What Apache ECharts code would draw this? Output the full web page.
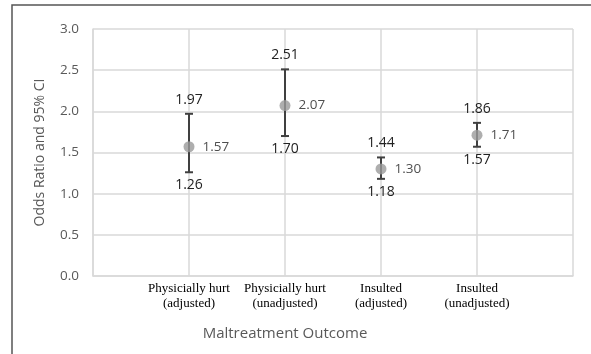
<!DOCTYPE html>
<html><head><meta charset="utf-8">
<script src="https://cdn.jsdelivr.net/npm/echarts@6/dist/echarts.min.js"></script>
<style>html,body{margin:0;padding:0;background:#fff}#c{width:591px;height:354px}</style>
</head><body><div id="c"></div>
<script>
const categories = ['Physicially hurt\n(adjusted)', 'Physicially hurt\n(unadjusted)', 'Insulted\n(adjusted)', 'Insulted\n(unadjusted)'];
const oddsRatio = [1.57, 2.07, 1.30, 1.71];
const lowerCI = [1.26, 1.70, 1.18, 1.57];
const upperCI = [1.97, 2.51, 1.44, 1.86];
const yTicks = [0, 0.5, 1.0, 1.5, 2.0, 2.5, 3.0];

const chart = echarts.init(document.getElementById('c'));
const gridColor = '#d9d9d9';
const errData = categories.map((c, i) => [i + 1, lowerCI[i], upperCI[i]]);
const ptData = categories.map((c, i) => [i + 1, oddsRatio[i]]);

chart.setOption({
  animation: false,
  grid: { left: 93, right: 18, top: 29, bottom: 78 },
  graphic: [
    { type: 'rect', shape: { x: 12, y: 5, width: 600, height: 360 }, style: { fill: 'none', stroke: '#555', lineWidth: 1.5 }, z: -10 },
    { type: 'text', x: 285, y: 334, style: { text: 'Maltreatment Outcome', font: '15px "Open Sans"', fill: '#595959', textAlign: 'center', textVerticalAlign: 'middle' } }
  ],
  xAxis: {
    type: 'value', min: 0, max: 5, interval: 1,
    axisLine: { show: true, lineStyle: { color: gridColor, width: 1.5 } },
    axisTick: { show: false },
    splitLine: { show: true, lineStyle: { color: gridColor, width: 1.5 } },
    axisLabel: {
      margin: 5, lineHeight: 15, color: '#000', fontFamily: '"Liberation Serif", serif', fontSize: 13,
      formatter: v => (v >= 1 && v <= categories.length) ? categories[v - 1] : ''
    }
  },
  yAxis: {
    type: 'value', min: yTicks[0], max: yTicks[yTicks.length - 1], interval: 0.5,
    name: 'Odds Ratio and 95% CI', nameLocation: 'middle', nameGap: 46,
    nameTextStyle: { color: '#595959', fontSize: 14, fontFamily: '"Open Sans"' },
    axisLine: { show: true, lineStyle: { color: gridColor, width: 1.5 } },
    axisTick: { show: false },
    splitLine: { show: true, lineStyle: { color: gridColor, width: 1.5 } },
    axisLabel: { margin: 14, color: '#595959', fontSize: 13.5, fontFamily: '"Open Sans"', formatter: v => v.toFixed(1) }
  },
  series: [
    {
      type: 'custom', data: errData, z: 3,
      renderItem: (params, api) => {
        const x = api.value(0), lo = api.value(1), hi = api.value(2);
        const pLo = api.coord([x, lo]), pHi = api.coord([x, hi]);
        const cap = 4;
        const st = { stroke: '#404040', lineWidth: 2 };
        const font = '14px "Open Sans"';
        return { type: 'group', children: [
          { type: 'line', shape: { x1: pLo[0], y1: pLo[1], x2: pHi[0], y2: pHi[1] }, style: st },
          { type: 'line', shape: { x1: pLo[0] - cap, y1: pLo[1], x2: pLo[0] + cap, y2: pLo[1] }, style: st },
          { type: 'line', shape: { x1: pHi[0] - cap, y1: pHi[1], x2: pHi[0] + cap, y2: pHi[1] }, style: st },
          { type: 'text', x: pHi[0], y: pHi[1] - 14, style: { text: hi.toFixed(2), font: font, fill: '#222', textAlign: 'center', textVerticalAlign: 'middle' } },
          { type: 'text', x: pLo[0], y: pLo[1] + 13, style: { text: lo.toFixed(2), font: font, fill: '#222', textAlign: 'center', textVerticalAlign: 'middle' } }
        ]};
      }
    },
    {
      type: 'scatter', data: ptData, symbol: 'circle', symbolSize: 11, z: 5,
      itemStyle: { color: '#9a9a9a' },
      label: { show: true, position: 'right', distance: 8, color: '#222', fontSize: 13.5, fontFamily: '"Open Sans"', formatter: p => p.value[1].toFixed(2) }
    }
  ]
});
</script></body></html>
